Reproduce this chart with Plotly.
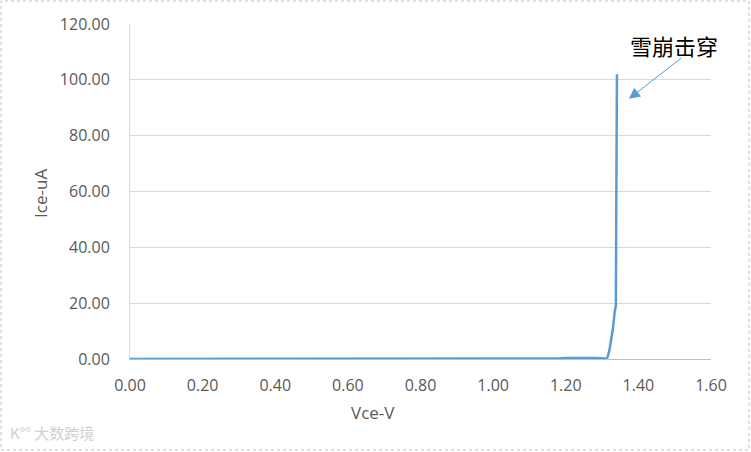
import plotly.graph_objects as go

vce = [0.00, 0.20, 0.40, 0.60, 0.80, 1.00, 1.10, 1.17, 1.18, 1.20, 1.25, 1.28, 1.30, 1.31,
       1.315, 1.32, 1.325, 1.33, 1.335, 1.338, 1.339, 1.340, 1.341]
ice = [0.00, 0.00, 0.00, 0.00, 0.00, 0.00, 0.00, 0.00, 0.20, 0.40, 0.50, 0.40, 0.30, 0.10,
       0.60, 3.00, 7.00, 11.00, 17.00, 19.00, 50.00, 90.00, 102.00]

y_ticks = [0, 20, 40, 60, 80, 100, 120]
x_ticks = [0.0, 0.2, 0.4, 0.6, 0.8, 1.0, 1.2, 1.4, 1.6]
x_title = "Vce-V"
y_title = "Ice-uA"
label_text = "雪崩击穿"
watermark = "大数跨境"

font_main = "Open Sans, Liberation Sans, sans-serif"
grey = "#595959"

fig = go.Figure()
fig.add_trace(go.Scatter(x=vce, y=ice, mode="lines",
                         line=dict(color="#5B9BD5", width=2.5), hoverinfo="skip"))

fig.update_layout(
    width=751, height=452,
    margin=dict(l=130, r=40, t=24, b=93),
    paper_bgcolor="white", plot_bgcolor="white",
    showlegend=False,
    font=dict(family=font_main, color=grey, size=16),
    xaxis=dict(range=[0, 1.6], tickvals=x_ticks, ticktext=[f"{v:.2f}" for v in x_ticks],
               showgrid=False, zeroline=False, showline=True, linecolor="#bfbfbf", linewidth=1.3,
               ticks="outside", ticklen=12, tickcolor="rgba(0,0,0,0)",
               tickfont=dict(size=16, color=grey)),
    yaxis=dict(range=[0, 120], tickvals=y_ticks, ticktext=[f"{v:.2f}" for v in y_ticks],
               showgrid=True, gridcolor="#d9d9d9", gridwidth=1, zeroline=False,
               showline=True, linecolor="#d9d9d9", linewidth=1,
               ticks="outside", ticklen=16, tickcolor="rgba(0,0,0,0)",
               tickfont=dict(size=16, color=grey)),
)

# axis titles
fig.add_annotation(x=0.418, y=-0.161, xref="paper", yref="paper", text=x_title, showarrow=False,
                   xanchor="center", yanchor="middle", font=dict(size=17, color=grey))
fig.add_annotation(x=-0.155, y=0.4955, xref="paper", yref="paper", text=y_title, showarrow=False,
                   xanchor="center", yanchor="middle", textangle=-90, font=dict(size=17, color=grey))

# callout
fig.add_annotation(x=1.374, y=93.2, xref="x", yref="y", ax=54, ay=-42,
                   text="", showarrow=True, arrowhead=2, arrowsize=2.2, arrowwidth=1,
                   arrowcolor="#5B9BD5")
fig.add_annotation(x=(674 - 130) / 581, y=(359 - 45) / 335, xref="paper", yref="paper",
                   text=label_text, showarrow=False, xanchor="center", yanchor="middle",
                   font=dict(family="Noto Sans CJK SC", size=22, color="#000000"))

# watermark
fig.add_annotation(x=-0.210, y=-0.258, xref="paper", yref="paper", xanchor="left", yanchor="bottom",
                   text="K°° " + watermark, showarrow=False,
                   font=dict(family="Noto Sans CJK SC", size=15, color="#d0d0d0"))

# chart border
fig.add_shape(type="rect", xref="paper", yref="paper", x0=-0.2220, x1=1.0654, y0=-0.2716, y1=1.0687,
              line=dict(color="#bfbfbf", width=1, dash="dot"), fillcolor="rgba(0,0,0,0)")

fig.write_html("out.html", config={"displayModeBar": False},
               post_script="document.body.style.margin='0';")
